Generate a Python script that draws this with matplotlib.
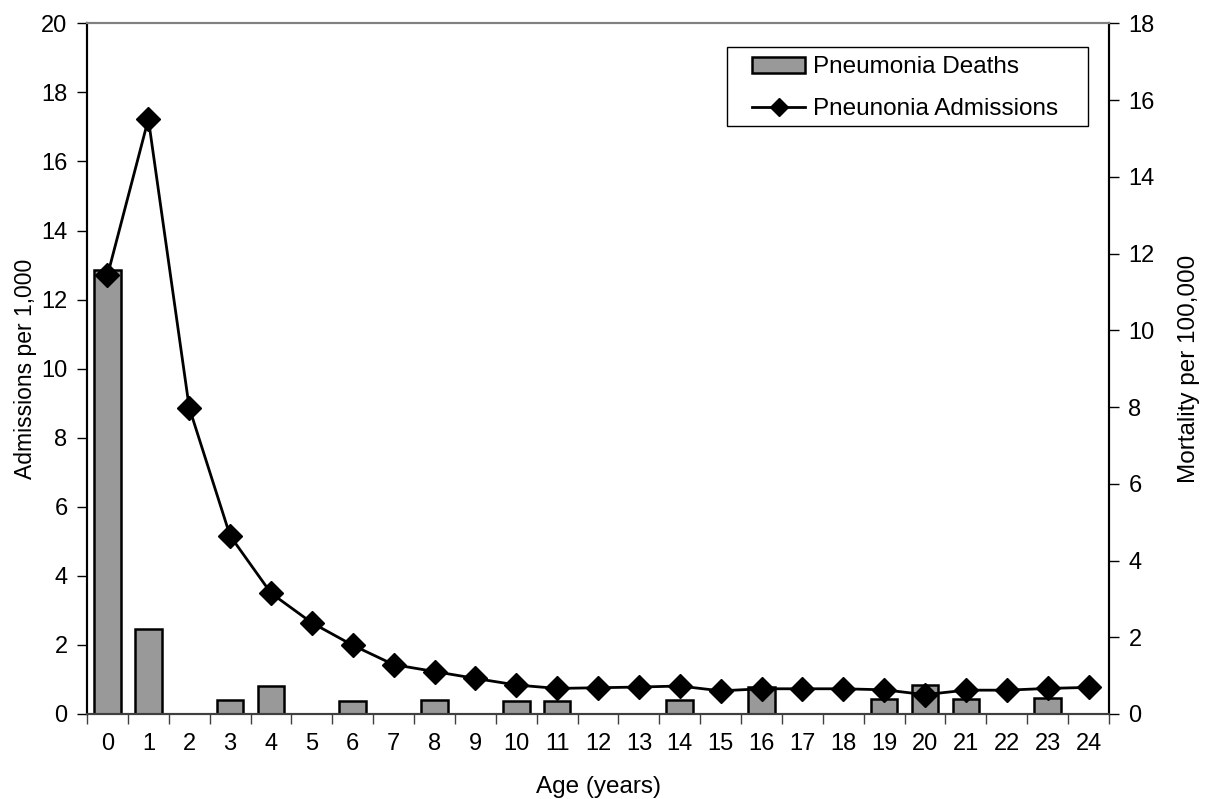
import numpy as np
import matplotlib.pyplot as plt
from matplotlib.patches import Rectangle

plt.rcParams['font.family'] = ['Liberation Sans', 'DejaVu Sans']

ages = list(range(25))
# admissions per 1,000 (left axis)
admissions = [12.7, 17.23, 8.87, 5.16, 3.50, 2.64, 1.99, 1.43, 1.23, 1.03, 0.84, 0.74,
              0.76, 0.78, 0.81, 0.67, 0.73, 0.73, 0.73, 0.70, 0.56, 0.69, 0.69, 0.74, 0.77]
# mortality per 100,000 (right axis)
deaths = [11.57, 2.21, 0, 0.365, 0.73, 0, 0.35, 0, 0.365, 0, 0.34, 0.34,
          0, 0, 0.36, 0, 0.70, 0, 0, 0.38, 0.75, 0.39, 0, 0.42, 0]

fig = plt.figure(figsize=(12.14, 7.99), dpi=100)
ax = fig.add_axes([0.0717, 0.1064, 0.9135 - 0.0717, 0.9708 - 0.1064])
ax2 = ax.twinx()

x = np.arange(len(ages))
bars = ax2.bar(x, deaths, width=0.65, color='#999999', edgecolor='black',
               linewidth=1.8, label='Pneumonia Deaths')
line, = ax.plot(x, admissions, color='black', linewidth=2, marker='D',
                markersize=12, label='Pneunonia Admissions')

ax.set_zorder(ax2.get_zorder() + 1)
ax.patch.set_visible(False)

ax.set_xlim(-0.5, 24.5)
ax.set_ylim(0, 20)
ax2.set_ylim(0, 18)
ax.set_yticks(np.arange(0, 21, 2))
ax2.set_yticks(np.arange(0, 19, 2))
ax.set_xticks(x)
ax.set_xticklabels([str(a) for a in ages])
ax.set_xticks(np.arange(-0.5, 25, 1), minor=True)

fs = 17
ax.tick_params(axis='x', which='major', length=0, labelsize=fs, pad=14)
ax.tick_params(axis='x', which='minor', length=7, width=1, direction='out', color='#404040')
ax.tick_params(axis='y', length=7, width=1, direction='out', labelsize=fs, pad=7)
ax2.tick_params(axis='y', length=7, width=1, direction='out', labelsize=fs, pad=7)

for a in (ax, ax2):
    a.spines['top'].set_color('#808080')
    a.spines['top'].set_linewidth(1.5)
    a.spines['bottom'].set_color('#404040')
    a.spines['bottom'].set_linewidth(1.5)
    a.spines['left'].set_linewidth(1.5)
    a.spines['right'].set_linewidth(1.5)

ax.set_xlabel('Age (years)', fontsize=17.5, labelpad=15)
ax.set_ylabel('Admissions per 1,000', fontsize=16.5, labelpad=3)
ax2.set_ylabel('Mortality per 100,000', fontsize=17.5, labelpad=17)

# legend box drawn separately so the padding can match
ax.add_patch(Rectangle((0.626, 0.8513), 0.9795 - 0.626, 0.9657 - 0.8513,
                       transform=ax.transAxes, facecolor='white', edgecolor='black',
                       linewidth=1, zorder=5))
leg = ax.legend([bars, line], ['Pneumonia Deaths', 'Pneunonia Admissions'],
                loc='upper left', bbox_to_anchor=(0.6507, 0.952), fontsize=17.5,
                frameon=False, handlelength=2.2, handleheight=0.6, handletextpad=0.3,
                borderpad=0, labelspacing=0.8, borderaxespad=0, markerscale=0.8)
leg.set_zorder(6)

fig.savefig('out.png', dpi=100)
